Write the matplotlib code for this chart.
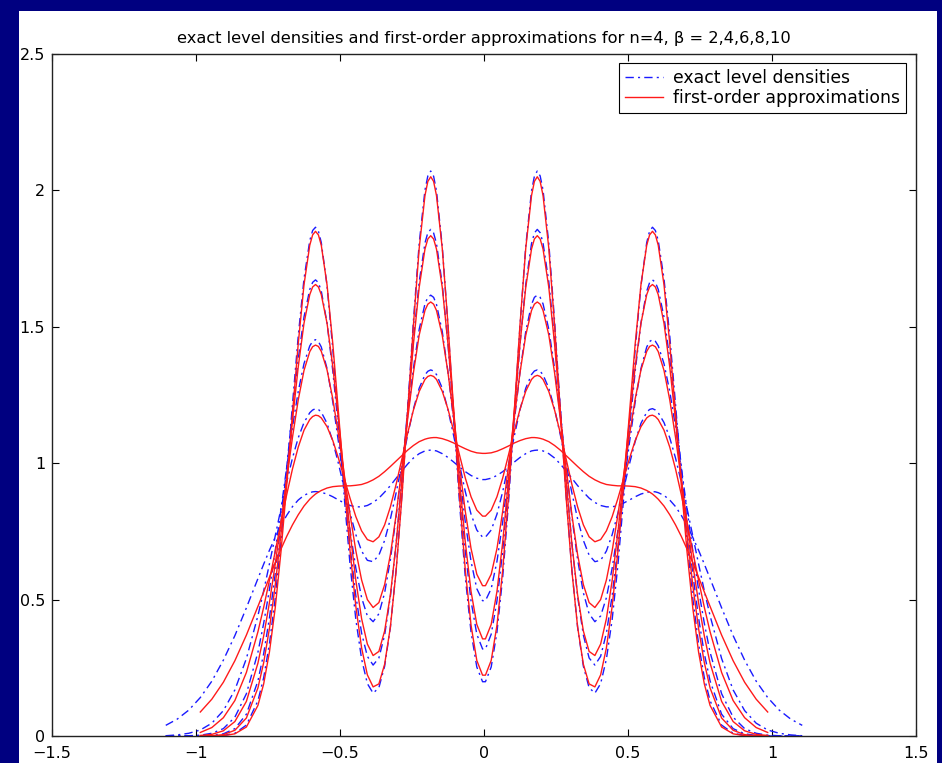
import numpy as np
import matplotlib
matplotlib.use("Agg")
import matplotlib.pyplot as plt
from matplotlib.patches import Rectangle

# x positions (right half, the densities are symmetric about 0)
x_half = [0.005, 0.025, 0.045, 0.065, 0.085, 0.105, 0.125, 0.145, 0.165, 0.175,
          0.185, 0.195, 0.205, 0.225, 0.245, 0.265, 0.285, 0.305, 0.325, 0.345,
          0.365, 0.385, 0.405, 0.425, 0.445, 0.465, 0.485, 0.505, 0.525, 0.545,
          0.565, 0.575, 0.585, 0.595, 0.605, 0.625, 0.645, 0.665, 0.685, 0.705,
          0.725, 0.745, 0.765, 0.785, 0.825, 0.865, 0.905, 0.945, 0.985, 1.025,
          1.065, 1.105]

nan = np.nan

# exact level densities (blue, dash-dot), beta = 2,4,6,8,10
exact_b2 = [0.940, 0.945, 0.955, 0.969, 0.986, 1.004, 1.021, 1.035, 1.045, 1.047,
            1.048, 1.047, 1.045, 1.035, 1.019, 0.997, 0.972, 0.945, 0.918, 0.894,
            0.872, 0.856, 0.845, 0.840, 0.840, 0.845, 0.854, 0.865, 0.877, 0.887,
            0.893, 0.895, 0.896, 0.895, 0.892, 0.882, 0.865, 0.841, 0.809, 0.772,
            0.728, 0.681, 0.630, 0.577, 0.470, 0.368, 0.278, 0.201, 0.141, 0.095,
            0.062, 0.039]
exact_b4 = [0.729, 0.755, 0.813, 0.896, 0.995, 1.099, 1.196, 1.275, 1.325, 1.338,
            1.342, 1.337, 1.324, 1.275, 1.199, 1.104, 0.998, 0.892, 0.796, 0.717,
            0.663, 0.639, 0.644, 0.678, 0.738, 0.817, 0.906, 0.997, 1.080, 1.146,
            1.187, 1.197, 1.200, 1.195, 1.185, 1.149, 1.093, 1.019, 0.931, 0.834,
            0.733, 0.631, 0.532, 0.441, 0.284, 0.169, 0.093, 0.047, 0.022, 0.010,
            0.004, 0.001]
exact_b6 = [0.496, 0.540, 0.640, 0.785, 0.963, 1.153, 1.334, 1.483, 1.582, 1.608,
            1.616, 1.608, 1.584, 1.491, 1.348, 1.174, 0.986, 0.805, 0.647, 0.525,
            0.448, 0.419, 0.440, 0.507, 0.615, 0.754, 0.913, 1.075, 1.225, 1.347,
            1.426, 1.446, 1.453, 1.447, 1.430, 1.365, 1.263, 1.133, 0.985, 0.830,
            0.678, 0.537, 0.413, 0.307, 0.155, 0.069, 0.027, 0.010, 0.003, 0.001,
            0.000, 0.000]
exact_b8 = [0.319, 0.373, 0.495, 0.680, 0.915, 1.177, 1.436, 1.656, 1.805, 1.844,
            1.857, 1.845, 1.807, 1.665, 1.453, 1.202, 0.944, 0.707, 0.512, 0.370,
            0.286, 0.260, 0.292, 0.377, 0.514, 0.693, 0.903, 1.125, 1.338, 1.514,
            1.631, 1.662, 1.672, 1.663, 1.637, 1.536, 1.382, 1.192, 0.986, 0.782,
            0.594, 0.433, 0.302, 0.202, 0.080, 0.027, 0.008, 0.002, 0.000, 0.000,
            0.000, 0.000]
exact_b10 = [0.199, 0.253, 0.381, 0.583, 0.854, 1.173, 1.504, 1.796, 1.998, 2.052,
             2.071, 2.053, 2.001, 1.806, 1.522, 1.199, 0.883, 0.610, 0.399, 0.256,
             0.177, 0.157, 0.192, 0.282, 0.427, 0.627, 0.873, 1.147, 1.419, 1.651,
             1.809, 1.851, 1.865, 1.853, 1.816, 1.676, 1.466, 1.216, 0.956, 0.713,
             0.504, 0.338, 0.214, 0.129, 0.040, 0.010, 0.002, 0.000, 0.000, 0.000,
             0.000, 0.000]

# first-order approximations (red, solid), only drawn on [-1, 1]
approx_b2 = [1.036, 1.038, 1.044, 1.053, 1.063, 1.074, 1.083, 1.090, 1.094, 1.094,
             1.093, 1.091, 1.088, 1.079, 1.065, 1.048, 1.028, 1.008, 0.988, 0.969,
             0.952, 0.939, 0.929, 0.922, 0.919, 0.917, 0.917, 0.916, 0.914, 0.909,
             0.900, 0.894, 0.887, 0.878, 0.868, 0.843, 0.811, 0.774, 0.732, 0.685,
             0.635, 0.582, 0.528, 0.475, 0.370, 0.276, 0.197, 0.135, 0.088, nan,
             nan, nan]
approx_b4 = [0.806, 0.828, 0.877, 0.946, 1.030, 1.117, 1.198, 1.264, 1.307, 1.318,
             1.322, 1.318, 1.307, 1.263, 1.195, 1.110, 1.016, 0.923, 0.840, 0.774,
             0.730, 0.712, 0.720, 0.752, 0.804, 0.871, 0.944, 1.017, 1.083, 1.134,
             1.166, 1.174, 1.176, 1.171, 1.160, 1.121, 1.059, 0.979, 0.885, 0.782,
             0.676, 0.571, 0.472, 0.382, 0.233, 0.130, 0.067, 0.031, 0.013, nan,
             nan, nan]
approx_b6 = [0.551, 0.593, 0.687, 0.824, 0.989, 1.165, 1.332, 1.469, 1.560, 1.583,
             1.591, 1.583, 1.560, 1.470, 1.332, 1.163, 0.984, 0.812, 0.665, 0.555,
             0.489, 0.471, 0.500, 0.572, 0.679, 0.811, 0.957, 1.103, 1.236, 1.342,
             1.410, 1.428, 1.433, 1.427, 1.409, 1.340, 1.232, 1.095, 0.941, 0.783,
             0.629, 0.489, 0.367, 0.267, 0.127, 0.053, 0.019, 0.006, 0.002, nan,
             nan, nan]
approx_b8 = [0.356, 0.409, 0.530, 0.711, 0.939, 1.190, 1.437, 1.645, 1.785, 1.822,
             1.834, 1.822, 1.785, 1.645, 1.437, 1.189, 0.937, 0.706, 0.518, 0.385,
             0.310, 0.295, 0.337, 0.430, 0.570, 0.747, 0.949, 1.158, 1.354, 1.513,
             1.618, 1.646, 1.655, 1.646, 1.618, 1.513, 1.353, 1.157, 0.945, 0.739,
             0.552, 0.394, 0.269, 0.176, 0.066, 0.021, 0.005, 0.001, 0.000, nan,
             nan, nan]
approx_b10 = [0.223, 0.277, 0.406, 0.609, 0.877, 1.189, 1.508, 1.788, 1.981, 2.033,
              2.050, 2.033, 1.981, 1.788, 1.507, 1.188, 0.876, 0.607, 0.400, 0.263,
              0.191, 0.180, 0.224, 0.323, 0.475, 0.677, 0.919, 1.182, 1.438, 1.654,
              1.799, 1.837, 1.850, 1.837, 1.799, 1.654, 1.438, 1.182, 0.919, 0.675,
              0.469, 0.308, 0.191, 0.112, 0.033, 0.008, 0.001, 0.000, 0.000, nan,
              nan, nan]

exact_curves = [exact_b2, exact_b4, exact_b6, exact_b8, exact_b10]
approx_curves = [approx_b2, approx_b4, approx_b6, approx_b8, approx_b10]

xticks = [-1.5, -1, -0.5, 0, 0.5, 1, 1.5]
xtick_labels = ["\u22121.5", "\u22121", "\u22120.5", "0", "0.5", "1", "1.5"]
yticks = [0, 0.5, 1, 1.5, 2, 2.5]
ytick_labels = ["0", "0.5", "1", "1.5", "2", "2.5"]

title = "exact level densities and first-order approximations for n=4, \u03b2 = 2,4,6,8,10"


def mirror(vals, sign=1):
    vals = np.asarray(vals, dtype=float)
    return np.concatenate([sign * vals[::-1], vals])


x = mirror(x_half, sign=-1)

fig = plt.figure(figsize=(9.42, 7.63), dpi=100, facecolor="#000080")
# white plotting area inside the navy frame
fig.patches.append(Rectangle((19 / 942, 0), (937 - 19) / 942, (763 - 11) / 763,
                             transform=fig.transFigure, facecolor="white",
                             edgecolor="none", zorder=-10))

ax = fig.add_axes([52 / 942, 27 / 763, 864 / 942, 682 / 763])
ax.set_zorder(5)
ax.set_facecolor("white")

for i, y in enumerate(exact_curves):
    ax.plot(x, mirror(y), color="#1a1aff", lw=1.0,
            linestyle=(0, (6, 3, 1.5, 3)),
            label="exact level densities" if i == 0 else None)

for i, y in enumerate(approx_curves):
    ax.plot(x, mirror(y), color="#ff1a1a", lw=1.0, linestyle="-",
            label="first-order approximations" if i == 0 else None)

ax.set_xlim(-1.5, 1.5)
ax.set_ylim(0, 2.5)
ax.set_xticks(xticks)
ax.set_xticklabels(xtick_labels)
ax.set_yticks(yticks)
ax.set_yticklabels(ytick_labels)
ax.tick_params(axis="both", direction="in", top=True, right=True,
               length=5, width=0.8, labelsize=11.5, colors="black")
ax.tick_params(axis="x", pad=7)
ax.tick_params(axis="y", pad=5)
for sp in ax.spines.values():
    sp.set_linewidth(1.0)
    sp.set_color("#222222")

ax.set_title(title, fontsize=11.7, pad=8)

leg = ax.legend(loc="upper right", bbox_to_anchor=(0.9884, 0.9868),
                borderaxespad=0, fontsize=12.4, handlelength=2.2,
                handletextpad=0.6, borderpad=0.35, labelspacing=0.12,
                fancybox=False, framealpha=1, edgecolor="black")
leg.get_frame().set_linewidth(0.8)

fig.savefig("out.png", dpi=100, facecolor=fig.get_facecolor())
